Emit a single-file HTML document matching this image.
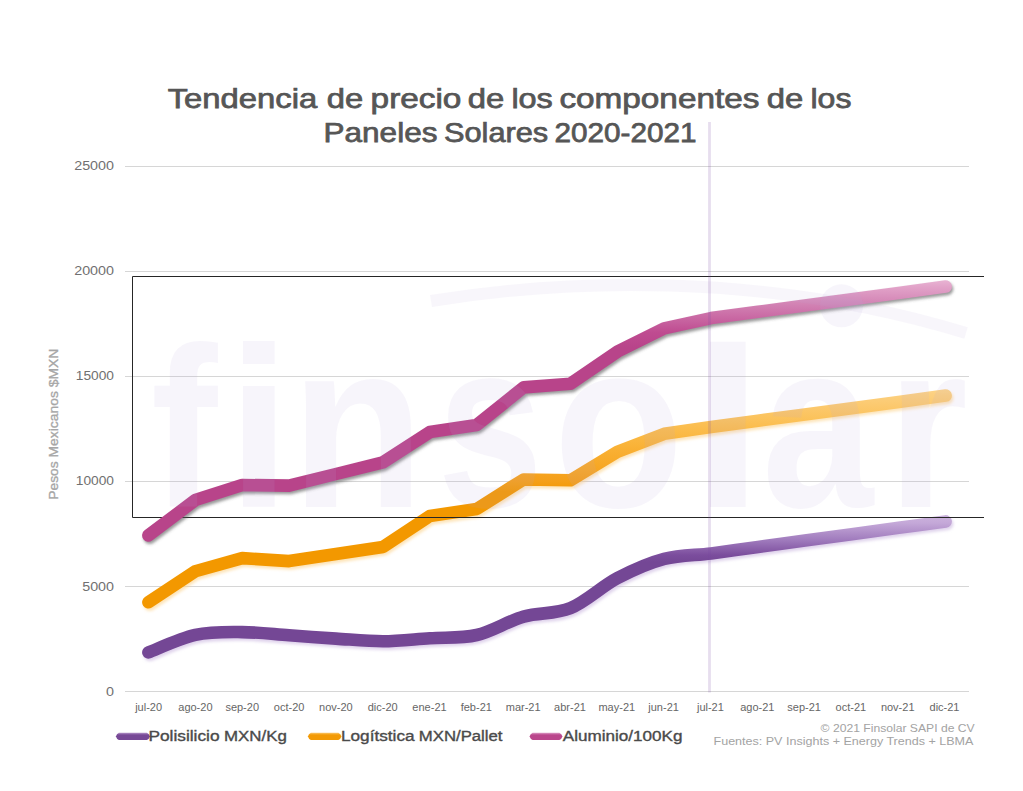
<!DOCTYPE html>
<html lang="es"><head><meta charset="utf-8"><title>Tendencia de precio de los componentes de los Paneles Solares 2020-2021</title>
<style>
html,body{margin:0;padding:0;background:#fff;}
body{width:1023px;height:791px;overflow:hidden;font-family:"Liberation Sans",sans-serif;}
svg{display:block;}
.t{font-family:"Liberation Sans",sans-serif;font-size:27.25px;fill:#565656;stroke:#565656;stroke-width:0.75px;}
.yl{font-family:"Liberation Sans",sans-serif;font-size:12px;fill:#707070;}
.xl{font-family:"Liberation Sans",sans-serif;font-size:11px;fill:#666;}
.lg{font-family:"Liberation Sans",sans-serif;font-size:14px;fill:#4a4a4a;stroke:#4a4a4a;stroke-width:0.35px;}
.ft{font-family:"Liberation Sans",sans-serif;font-size:10.6px;fill:#a3a3a3;}
.ya{font-family:"Liberation Sans",sans-serif;font-size:12.5px;fill:#a6a6a6;stroke:#a6a6a6;stroke-width:0.3px;}
.wm{font-family:"Liberation Sans",sans-serif;font-weight:bold;font-size:200px;}
</style></head><body>
<svg width="1023" height="791" viewBox="0 0 1023 791">
<defs>
<linearGradient id="gp" gradientUnits="userSpaceOnUse" x1="0" y1="280" x2="0" y2="545"><stop offset="0.000" stop-color="#e8b4d3"/><stop offset="0.026" stop-color="#e2a3c9"/><stop offset="0.087" stop-color="#d385b5"/><stop offset="0.143" stop-color="#c968a3"/><stop offset="0.196" stop-color="#bf4c91"/><stop offset="0.257" stop-color="#b8448a"/><stop offset="1.000" stop-color="#b8448a"/></linearGradient>
<linearGradient id="go" gradientUnits="userSpaceOnUse" x1="0" y1="388" x2="0" y2="610"><stop offset="0.000" stop-color="#fdd58c"/><stop offset="0.032" stop-color="#fccf7e"/><stop offset="0.189" stop-color="#fbbc4a"/><stop offset="0.279" stop-color="#f9b033"/><stop offset="0.414" stop-color="#f5a01a"/><stop offset="0.468" stop-color="#f39800"/><stop offset="1.000" stop-color="#f39800"/></linearGradient>
<linearGradient id="gv" gradientUnits="userSpaceOnUse" x1="0" y1="514" x2="0" y2="660"><stop offset="0.000" stop-color="#cdb5de"/><stop offset="0.062" stop-color="#c4a8d8"/><stop offset="0.178" stop-color="#a07bbd"/><stop offset="0.281" stop-color="#7b4d9d"/><stop offset="0.329" stop-color="#744795"/><stop offset="1.000" stop-color="#744795"/></linearGradient>
<filter id="sh" x="-5%" y="-5%" width="110%" height="115%"><feGaussianBlur stdDeviation="1.6"/></filter>
</defs>
<rect width="1023" height="791" fill="#ffffff"/>
<rect x="125" y="166" width="844" height="1" fill="#d6d6d6"/>
<rect x="125" y="271" width="844" height="1" fill="#d6d6d6"/>
<rect x="125" y="376" width="844" height="1" fill="#d6d6d6"/>
<rect x="125" y="481" width="844" height="1" fill="#d6d6d6"/>
<rect x="125" y="586" width="844" height="1" fill="#d6d6d6"/>
<rect x="125" y="691" width="844" height="1" fill="#d6d6d6"/>
<path d="M148.4,652.4 C156.3,649.5 179.7,638.3 195.3,634.9 C211.0,631.5 226.6,632.0 242.2,632.1 C257.9,632.2 273.5,634.2 289.1,635.3 C304.7,636.4 320.4,637.6 336.0,638.6 C351.6,639.6 367.3,641.3 382.9,641.3 C398.5,641.2 414.1,639.3 429.8,638.3 C445.4,637.2 461.0,638.6 476.7,635.0 C492.3,631.4 507.9,621.1 523.6,616.6 C539.2,612.1 554.8,614.6 570.4,608.2 C586.1,601.8 601.7,586.4 617.3,578.2 C633.0,570.0 648.6,563.0 664.2,558.9 C679.9,554.8 695.5,555.4 711.1,553.4 C726.7,551.4 742.4,549.1 758.0,547.0 C773.6,544.9 789.3,542.7 804.9,540.6 C820.5,538.5 836.1,536.3 851.8,534.2 C867.4,532.1 883.0,529.9 898.7,527.8 C914.3,525.7 937.7,522.5 945.6,521.4" transform="translate(1.4,2.4)" fill="none" stroke="#c9b6e0" stroke-opacity="0.6" stroke-width="12.6" stroke-linecap="round" stroke-linejoin="round" filter="url(#sh)"/>
<path d="M148.4,652.4 C156.3,649.5 179.7,638.3 195.3,634.9 C211.0,631.5 226.6,632.0 242.2,632.1 C257.9,632.2 273.5,634.2 289.1,635.3 C304.7,636.4 320.4,637.6 336.0,638.6 C351.6,639.6 367.3,641.3 382.9,641.3 C398.5,641.2 414.1,639.3 429.8,638.3 C445.4,637.2 461.0,638.6 476.7,635.0 C492.3,631.4 507.9,621.1 523.6,616.6 C539.2,612.1 554.8,614.6 570.4,608.2 C586.1,601.8 601.7,586.4 617.3,578.2 C633.0,570.0 648.6,563.0 664.2,558.9 C679.9,554.8 695.5,555.4 711.1,553.4 C726.7,551.4 742.4,549.1 758.0,547.0 C773.6,544.9 789.3,542.7 804.9,540.6 C820.5,538.5 836.1,536.3 851.8,534.2 C867.4,532.1 883.0,529.9 898.7,527.8 C914.3,525.7 937.7,522.5 945.6,521.4" fill="none" stroke="url(#gv)" stroke-width="12.6" stroke-linecap="round" stroke-linejoin="round"/>
<path d="M148.4,602.3 L195.3,571.2 L242.2,558.1 L289.1,561.1 L336.0,554.0 L382.9,546.9 L429.8,516.0 L476.7,509.0 L523.6,479.5 L570.4,480.3 L617.3,451.8 L664.2,433.8 L711.1,427.0 L758.0,420.7 L804.9,414.4 L851.8,408.2 L898.7,401.9 L945.6,395.6" transform="translate(1.4,2.4)" fill="none" stroke="#fbd28a" stroke-opacity="0.6" stroke-width="12.6" stroke-linecap="round" stroke-linejoin="round" filter="url(#sh)"/>
<path d="M148.4,602.3 L195.3,571.2 L242.2,558.1 L289.1,561.1 L336.0,554.0 L382.9,546.9 L429.8,516.0 L476.7,509.0 L523.6,479.5 L570.4,480.3 L617.3,451.8 L664.2,433.8 L711.1,427.0 L758.0,420.7 L804.9,414.4 L851.8,408.2 L898.7,401.9 L945.6,395.6" fill="none" stroke="url(#go)" stroke-width="12.6" stroke-linecap="round" stroke-linejoin="round"/>
<path d="M984,276.5 H132.5 V517.5 H984" fill="none" stroke="#262626" stroke-width="1"/>
<path d="M148.4,535.4 L195.3,500.1 L242.2,485.0 L289.1,485.6 L336.0,474.0 L382.9,462.4 L429.8,432.1 L476.7,425.0 L523.6,387.4 L570.4,383.8 L617.3,351.7 L664.2,328.4 L711.1,318.1 L758.0,311.8 L804.9,305.5 L851.8,299.2 L898.7,292.9 L945.6,286.6" transform="translate(1.4,2.4)" fill="none" stroke="#555" stroke-opacity="0.6" stroke-width="12.6" stroke-linecap="round" stroke-linejoin="round" filter="url(#sh)"/>
<path d="M148.4,535.4 L195.3,500.1 L242.2,485.0 L289.1,485.6 L336.0,474.0 L382.9,462.4 L429.8,432.1 L476.7,425.0 L523.6,387.4 L570.4,383.8 L617.3,351.7 L664.2,328.4 L711.1,318.1 L758.0,311.8 L804.9,305.5 L851.8,299.2 L898.7,292.9 L945.6,286.6" fill="none" stroke="url(#gp)" stroke-width="12.6" stroke-linecap="round" stroke-linejoin="round"/>
<g fill="#b9a8d8" fill-opacity="0.115" stroke="none">
<text class="wm" transform="translate(151.0,507) scale(1.000,1.141)">f</text>
<text class="wm" transform="translate(226.9,507) scale(1.148,1.141)">i</text>
<text class="wm" transform="translate(290.8,507) scale(1.093,1.190)">n</text>
<text class="wm" transform="translate(437.4,507) scale(0.948,1.190)">s</text>
<text class="wm" transform="translate(553.5,507) scale(1.066,1.190)">o</text>
<text class="wm" transform="translate(691.9,507) scale(1.296,1.141)">l</text>
<text class="wm" transform="translate(762.0,507) scale(1.000,1.190)">a</text>
<text class="wm" transform="translate(887.6,507) scale(1.032,1.190)">r</text>
<circle cx="841.5" cy="305.8" r="21.5"/>
</g>
<path d="M431,301 C560,280 760,270 966,333" fill="none" stroke="#b9a8d8" stroke-opacity="0.10" stroke-width="12"/>
<rect x="708.1" y="122" width="2.8" height="570.5" fill="#7846a0" fill-opacity="0.18"/>
<text class="t" x="167.7" y="107.8" textLength="149.5" lengthAdjust="spacingAndGlyphs">Tendencia</text>
<text class="t" x="326.8" y="107.8" textLength="36.4" lengthAdjust="spacingAndGlyphs">de</text>
<text class="t" x="370.6" y="107.8" textLength="90.8" lengthAdjust="spacingAndGlyphs">precio</text>
<text class="t" x="467.7" y="107.8" textLength="36.5" lengthAdjust="spacingAndGlyphs">de</text>
<text class="t" x="511.4" y="107.8" textLength="41.4" lengthAdjust="spacingAndGlyphs">los</text>
<text class="t" x="559.4" y="107.8" textLength="200.0" lengthAdjust="spacingAndGlyphs">componentes</text>
<text class="t" x="766.8" y="107.8" textLength="36.5" lengthAdjust="spacingAndGlyphs">de</text>
<text class="t" x="810.5" y="107.8" textLength="40.9" lengthAdjust="spacingAndGlyphs">los</text>
<text class="t" x="323.6" y="141.6" textLength="113.8" lengthAdjust="spacingAndGlyphs">Paneles</text>
<text class="t" x="444.0" y="141.6" textLength="104.2" lengthAdjust="spacingAndGlyphs">Solares</text>
<text class="t" x="554.5" y="141.6" textLength="142.0" lengthAdjust="spacingAndGlyphs">2020-2021</text>
<text class="yl" x="74.2" y="169.9" textLength="39.8" lengthAdjust="spacingAndGlyphs">25000</text>
<text class="yl" x="74.2" y="275.1" textLength="39.8" lengthAdjust="spacingAndGlyphs">20000</text>
<text class="yl" x="75.8" y="380.3" textLength="38.2" lengthAdjust="spacingAndGlyphs">15000</text>
<text class="yl" x="75.8" y="485.4" textLength="38.2" lengthAdjust="spacingAndGlyphs">10000</text>
<text class="yl" x="82.2" y="590.6" textLength="31.8" lengthAdjust="spacingAndGlyphs">5000</text>
<text class="yl" x="106.0" y="695.8" textLength="8.0" lengthAdjust="spacingAndGlyphs">0</text>
<text class="xl" x="148.6" y="711" text-anchor="middle">jul-20</text>
<text class="xl" x="195.4" y="711" text-anchor="middle">ago-20</text>
<text class="xl" x="242.2" y="711" text-anchor="middle">sep-20</text>
<text class="xl" x="289.1" y="711" text-anchor="middle">oct-20</text>
<text class="xl" x="335.9" y="711" text-anchor="middle">nov-20</text>
<text class="xl" x="382.7" y="711" text-anchor="middle">dic-20</text>
<text class="xl" x="429.5" y="711" text-anchor="middle">ene-21</text>
<text class="xl" x="476.3" y="711" text-anchor="middle">feb-21</text>
<text class="xl" x="523.2" y="711" text-anchor="middle">mar-21</text>
<text class="xl" x="570.0" y="711" text-anchor="middle">abr-21</text>
<text class="xl" x="616.8" y="711" text-anchor="middle">may-21</text>
<text class="xl" x="663.6" y="711" text-anchor="middle">jun-21</text>
<text class="xl" x="710.4" y="711" text-anchor="middle">jul-21</text>
<text class="xl" x="757.3" y="711" text-anchor="middle">ago-21</text>
<text class="xl" x="804.1" y="711" text-anchor="middle">sep-21</text>
<text class="xl" x="850.9" y="711" text-anchor="middle">oct-21</text>
<text class="xl" x="897.7" y="711" text-anchor="middle">nov-21</text>
<text class="xl" x="944.5" y="711" text-anchor="middle">dic-21</text>
<text class="ya" transform="translate(58,499.8) rotate(-90)" textLength="151" lengthAdjust="spacingAndGlyphs">Pesos Mexicanos $MXN</text>
<defs>
<linearGradient id="sv" gradientUnits="userSpaceOnUse" x1="0" y1="732.8" x2="0" y2="740"><stop offset="0" stop-color="#b493c8"/><stop offset="0.3" stop-color="#774996"/><stop offset="1" stop-color="#774996"/></linearGradient>
<linearGradient id="so" gradientUnits="userSpaceOnUse" x1="0" y1="732.8" x2="0" y2="740"><stop offset="0" stop-color="#fbc66a"/><stop offset="0.3" stop-color="#f39a05"/><stop offset="1" stop-color="#f39a05"/></linearGradient>
<linearGradient id="sp" gradientUnits="userSpaceOnUse" x1="0" y1="732.8" x2="0" y2="740"><stop offset="0" stop-color="#dc9cc6"/><stop offset="0.3" stop-color="#ba468c"/><stop offset="1" stop-color="#ba468c"/></linearGradient>
</defs>
<path d="M115.9,736.4 Q116.5,734.2 118.9,732.8 H146.9 Q149.3,734.2 149.9,736.4 Q149.3,738.6 146.9,740 H118.9 Q116.5,738.6 115.9,736.4 Z" fill="url(#sv)"/>
<path d="M307.9,736.4 Q308.5,734.2 310.9,732.8 H338.4 Q340.79999999999995,734.2 341.4,736.4 Q340.79999999999995,738.6 338.4,740 H310.9 Q308.5,738.6 307.9,736.4 Z" fill="url(#so)"/>
<path d="M529.6,736.4 Q530.2,734.2 532.6,732.8 H559.4 Q561.8,734.2 562.4,736.4 Q561.8,738.6 559.4,740 H532.6 Q530.2,738.6 529.6,736.4 Z" fill="url(#sp)"/>
<text class="lg" x="148.4" y="741.1" textLength="71.2" lengthAdjust="spacingAndGlyphs">Polisilicio</text>
<text class="lg" x="224.0" y="741.1" textLength="62.8" lengthAdjust="spacingAndGlyphs">MXN/Kg</text>
<text class="lg" x="341.0" y="741.1" textLength="73.6" lengthAdjust="spacingAndGlyphs">Logítstica</text>
<text class="lg" x="418.8" y="741.1" textLength="83.7" lengthAdjust="spacingAndGlyphs">MXN/Pallet</text>
<text class="lg" x="562.8" y="741.1" textLength="119.7" lengthAdjust="spacingAndGlyphs">Aluminio/100Kg</text>
<text class="ft" x="820.6" y="732" textLength="154.1" lengthAdjust="spacingAndGlyphs">© 2021 Finsolar SAPI de CV</text>
<text class="ft" x="713.5" y="745.2" textLength="259.9" lengthAdjust="spacingAndGlyphs">Fuentes: PV Insights + Energy Trends + LBMA</text>
</svg></body></html>
